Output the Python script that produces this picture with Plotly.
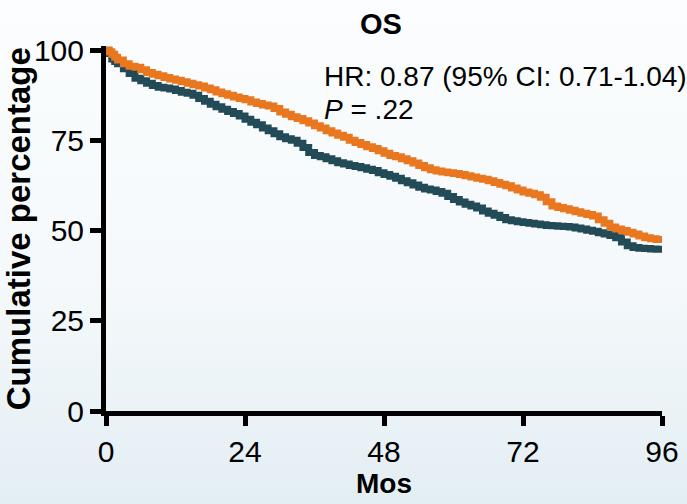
import base64
import plotly.graph_objects as go

# ---- data ----
orange_t = [0, 0.5, 1, 1.5, 2, 3, 4, 5, 6, 7, 8, 9, 10, 11, 12, 13, 14, 15, 16, 17, 18, 19, 20,
            21, 22, 23, 24, 25, 26, 27, 28, 29, 30, 31, 32, 33, 34, 35, 36, 37, 38, 39, 40,
            41, 42, 43, 44, 45, 46, 47, 48, 49, 50, 51, 52, 53, 54, 55, 56, 57, 58, 59, 60,
            61, 62, 63, 64, 65, 66, 67, 68, 69, 70, 71, 72, 73, 74, 75, 76, 77, 78, 79, 80,
            81, 82, 83, 84, 85, 86, 87, 88, 89, 90, 91, 92, 93, 94, 95, 96]
orange_s = [100, 99.5, 98.8, 98.0, 97.2, 96.2, 95.5, 95.2, 94.5, 93.8, 93.3, 92.9, 92.4, 92.0,
            91.6, 91.2, 90.8, 90.4, 90.0, 89.5, 89.0, 88.4, 87.9, 87.5, 87.0, 86.6, 86.2, 85.6,
            85.2, 84.8, 84.5, 83.8, 82.8, 82.2, 81.5, 81.0, 80.4, 79.8, 79.0, 78.4, 77.6, 77.0,
            76.4, 75.8, 75.0, 74.4, 73.8, 73.2, 72.7, 72.1, 71.4, 70.8, 70.4, 69.9, 69.3, 68.7,
            68.0, 67.4, 66.8, 66.5, 66.2, 66.0, 65.8, 65.5, 65.2, 64.8, 64.5, 64.2, 63.8, 63.3,
            62.8, 62.4, 61.8, 61.2, 60.7, 60.3, 59.9, 59.2, 58.0, 56.8, 56.4, 56.0, 55.6, 55.2,
            54.8, 54.4, 54.0, 53.0, 52.0, 51.0, 50.4, 50.0, 49.5, 49.0, 48.5, 48.0, 47.7, 47.5, 47.4]

dark_t = [0, 0.5, 1, 1.5, 2, 3, 4, 5, 6, 7, 8, 9, 10, 11, 12, 13, 14, 15, 16, 17, 18, 19, 20,
          21, 22, 23, 24, 25, 26, 27, 28, 29, 30, 31, 32, 33, 34, 35, 36, 37, 38, 39, 40,
          41, 42, 43, 44, 45, 46, 47, 48, 49, 50, 51, 52, 53, 54, 55, 56, 57, 58, 59, 60,
          61, 62, 63, 64, 65, 66, 67, 68, 69, 70, 71, 72, 73, 74, 75, 76, 77, 78, 79, 80,
          81, 82, 83, 84, 85, 86, 87, 88, 89, 90, 91, 92, 93, 94, 95, 96]
dark_s = [100, 99.0, 97.5, 96.8, 96.2, 94.8, 93.5, 92.2, 91.5, 90.8, 90.2, 89.7, 89.5, 89.2,
          88.8, 88.3, 88.0, 87.5, 86.6, 85.8, 85.0, 84.3, 83.6, 83.0, 82.4, 81.7, 80.8, 80.0,
          79.3, 78.4, 77.6, 76.8, 76.0, 75.4, 75.0, 74.2, 73.0, 71.6, 70.8, 70.4, 69.9, 69.3,
          68.8, 68.4, 68.0, 67.7, 67.4, 67.0, 66.6, 66.0, 65.5, 65.0, 64.5, 63.8, 63.2, 62.6,
          62.0, 61.5, 61.2, 60.8, 60.3, 59.4, 58.6, 57.9, 57.3, 56.8, 56.2, 55.4, 54.8, 54.2,
          53.6, 53.0, 52.7, 52.4, 52.2, 52.0, 51.8, 51.6, 51.4, 51.3, 51.2, 51.1, 51.0, 50.7,
          50.4, 50.1, 49.8, 49.4, 49.0, 48.6, 48.0, 46.8, 45.8, 45.3, 45.1, 45.0, 44.9, 44.8, 44.7]

x_ticks = [0, 24, 48, 72, 96]
y_ticks = [0, 25, 50, 75, 100]

title_text = "OS"
hr_text = "HR: 0.87 (95% CI: 0.71-1.04)"
p_text = "<i>P</i> = .22"

FONT = "Liberation Sans, Arial, sans-serif"
W, H = 687, 504

# background gradient (svg data uri)
svg = (
    "<svg xmlns='http://www.w3.org/2000/svg' width='687' height='504' preserveAspectRatio='none'>"
    "<defs><linearGradient id='g' x1='0' y1='0' x2='0' y2='1'>"
    "<stop offset='0' stop-color='#fbfdfe'/>"
    "<stop offset='0.55' stop-color='#f5f9fb'/>"
    "<stop offset='1' stop-color='#e3eef3'/>"
    "</linearGradient></defs>"
    "<rect x='0' y='0' width='687' height='504' fill='url(#g)'/></svg>"
)
bg_uri = "data:image/svg+xml;base64," + base64.b64encode(svg.encode()).decode()

fig = go.Figure()
fig.add_trace(go.Scatter(x=dark_t, y=dark_s, mode="lines", line=dict(color="#234a57", width=7, shape="hv"),
                         showlegend=False, hoverinfo="skip"))
fig.add_trace(go.Scatter(x=orange_t, y=orange_s, mode="lines", line=dict(color="#e8771f", width=7, shape="hv"),
                         showlegend=False, hoverinfo="skip"))

px_left, px_right = 106, 662
px_bottom, px_top = 411, 46.4

fig.update_layout(
    width=W, height=H,
    autosize=False,
    margin=dict(l=0, r=0, t=0, b=0, pad=0, autoexpand=False),
    paper_bgcolor="#f6fafc",
    plot_bgcolor="rgba(0,0,0,0)",
    font=dict(family=FONT, color="#000000"),
    images=[dict(source=bg_uri, xref="paper", yref="paper", x=0, y=1, sizex=1, sizey=1,
                 xanchor="left", yanchor="top", sizing="stretch", layer="below")],
    title=dict(text=title_text, x=381 / W, y=1 - 24 / H, xanchor="center", yanchor="middle",
               automargin=False,
               font=dict(family=FONT, size=29, color="#000000", weight="bold")),
    xaxis=dict(
        domain=[px_left / W, px_right / W], range=[0, 96], automargin=False,
        tickmode="array", tickvals=x_ticks, ticktext=[str(v) for v in x_ticks],
        showline=True, linecolor="#000000", linewidth=5,
        ticks="outside", ticklen=10, tickwidth=5, tickcolor="#000000",
        showgrid=False, zeroline=False,
        tickfont=dict(family=FONT, size=30, color="#000000"),
        title=dict(text="Mos", standoff=6, font=dict(family=FONT, size=28, color="#000000", weight="bold")),
    ),
    yaxis=dict(
        domain=[1 - px_bottom / H, 1 - px_top / H], range=[0, 101], automargin=False,
        tickmode="array", tickvals=y_ticks, ticktext=[str(v) for v in y_ticks],
        showline=True, linecolor="#000000", linewidth=5,
        ticks="outside", ticklen=11, tickwidth=5, tickcolor="#000000",
        showgrid=False, zeroline=False,
        tickfont=dict(family=FONT, size=30, color="#000000"),
        title=dict(text="Cumulative percentage", standoff=0,
                   font=dict(family=FONT, size=33, color="#000000", weight="bold")),
    ),
    annotations=[
        dict(text=hr_text, xref="paper", yref="paper", x=322 / W, y=1 - 76 / H,
             xanchor="left", yanchor="middle", showarrow=False,
             font=dict(family=FONT, size=28, color="#000000")),
        dict(text=p_text, xref="paper", yref="paper", x=322 / W, y=1 - 109 / H,
             xanchor="left", yanchor="middle", showarrow=False,
             font=dict(family=FONT, size=28, color="#000000")),
    ],
)

fig.write_html(
    "out.html",
    config={"responsive": False, "displayModeBar": False},
    post_script="document.body.style.margin='0';document.body.style.overflow='hidden';",
)
